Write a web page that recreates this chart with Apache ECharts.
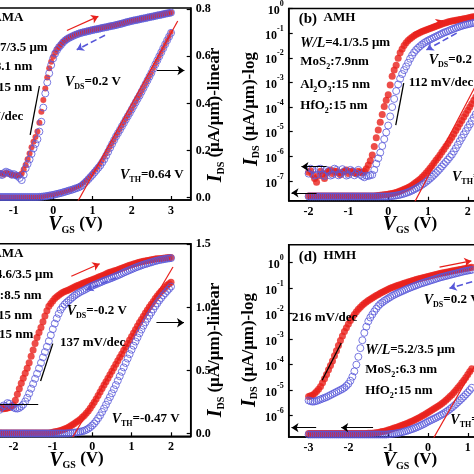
<!DOCTYPE html>
<html><head><meta charset="utf-8">
<script src="https://cdn.jsdelivr.net/npm/echarts@6/dist/echarts.min.js"></script>
<style>html,body{margin:0;padding:0;background:#fff}#c{width:474px;height:474px}</style>
</head><body><div id="c"></div>
<script>
// ---------- data (0.05 V steps) ----------
// Panel (a) AMA, VDS = 0.2 V
const vA = [-1.4,-1.35,-1.3,-1.25,-1.2,-1.15,-1.1,-1.05,-1.0,-0.95,-0.9,-0.85,-0.8,-0.75,-0.7,-0.65,-0.6,-0.55,-0.5,-0.45,
  -0.4,-0.35,-0.3,-0.25,-0.2,-0.15,-0.1,-0.05,0,0.05,0.1,0.15,0.2,0.25,0.3,0.35,0.4,0.45,0.5,0.55,
  0.6,0.65,0.7,0.75,0.8,0.85,0.9,0.95,1.0,1.05,1.1,1.15,1.2,1.25,1.3,1.35,1.4,1.45,1.5,1.55,
  1.6,1.65,1.7,1.75,1.8,1.85,1.9,1.95,2.0,2.05,2.1,2.15,2.2,2.25,2.3,2.35,2.4,2.45,2.5,2.55,
  2.6,2.65,2.7,2.75,2.8,2.85,2.9,2.95,3.0];
const aLogExpFwd = [-6.92,-6.88,-6.9,-6.95,-6.86,-6.9,-6.93,-6.97,-6.95,-6.99,-6.98,-6.97,-6.9,-6.73,-6.54,-6.3,-6.06,-5.8,-5.57,-5.37,
  -5.15,-4.78,-4.32,-3.83,-3.35,-2.9,-2.51,-2.24,-2.03,-1.86,-1.72,-1.61,-1.51,-1.42,-1.35,-1.29,-1.24,-1.2,-1.16,-1.12,
  -1.09,-1.06,-1.03,-1.01,-0.99,-0.97,-0.95,-0.93,-0.91,-0.89,-0.875,-0.86,-0.84,-0.82,-0.805,-0.79,-0.77,-0.75,-0.735,-0.72,
  -0.7,-0.68,-0.66,-0.64,-0.62,-0.595,-0.575,-0.555,-0.535,-0.515,-0.5,-0.485,-0.465,-0.445,-0.43,-0.415,-0.395,-0.375,-0.36,-0.345,
  -0.325,-0.305,-0.29,-0.275,-0.255,-0.235,-0.22,-0.205,-0.185];
const aLogExpBwd = [-6.9,-6.93,-6.96,-6.88,-6.82,-6.86,-6.89,-6.95,-6.92,-6.97,-7.0,-7.08,-7.17,-6.95,-6.68,-6.5,-6.31,-6.08,-5.85,-5.66,
  -5.47,-5.15,-4.74,-4.15,-3.56,-3.1,-2.72,-2.38,-2.1,-1.9,-1.75,-1.63,-1.54,-1.44,-1.36,-1.3,-1.25,-1.21,-1.17,-1.13,
  -1.1,-1.07,-1.04,-1.02,-1.0,-0.98,-0.96,-0.94,-0.92,-0.9,-0.885,-0.87,-0.85,-0.83,-0.815,-0.8,-0.78,-0.76,-0.745,-0.73,
  -0.71,-0.69,-0.67,-0.65,-0.625,-0.6,-0.58,-0.56,-0.54,-0.52,-0.505,-0.49,-0.47,-0.45,-0.435,-0.42,-0.4,-0.38,-0.365,-0.35,
  -0.33,-0.31,-0.295,-0.28,-0.26,-0.24,-0.225,-0.21,-0.19];
const aLinFwd = [0.003,0.003,0.003,0.003,0.003,0.003,0.003,0.003,0.003,0.003,0.003,0.003,0.003,0.003,0.003,0.003,0.003,0.003,0.003,0.003,
  0.003,0.0035,0.004,0.005,0.006,0.008,0.01,0.0115,0.013,0.015,0.017,0.019,0.021,0.0235,0.026,0.0285,0.031,0.034,0.037,0.04,
  0.044,0.048,0.053,0.06,0.067,0.075,0.084,0.093,0.103,0.113,0.123,0.134,0.145,0.158,0.172,0.186,0.2,0.215,0.23,0.245,
  0.261,0.275,0.29,0.304,0.318,0.333,0.347,0.361,0.376,0.391,0.406,0.421,0.435,0.451,0.467,0.483,0.499,0.515,0.531,0.549,
  0.567,0.584,0.601,0.618,0.635,0.652,0.669,0.685,0.703];
const aLinBwd = [0.003,0.003,0.003,0.003,0.003,0.003,0.003,0.003,0.003,0.003,0.003,0.003,0.003,0.003,0.003,0.003,0.003,0.003,0.003,0.003,
  0.003,0.0035,0.004,0.005,0.006,0.0075,0.009,0.0105,0.012,0.014,0.016,0.018,0.02,0.0225,0.025,0.0275,0.03,0.0325,0.035,0.038,
  0.041,0.044,0.048,0.054,0.062,0.07,0.079,0.088,0.097,0.107,0.117,0.127,0.137,0.15,0.163,0.179,0.195,0.212,0.228,0.244,
  0.26,0.274,0.288,0.303,0.317,0.332,0.346,0.36,0.375,0.39,0.405,0.42,0.434,0.45,0.466,0.482,0.498,0.514,0.53,0.548,
  0.566,0.583,0.6,0.617,0.634,0.651,0.668,0.684,0.70];
const aFitV = [0.6, 3.17];
const aFitI = [-0.024, 0.75];

// Panel (b) AMH, VDS = 0.2 V
const vB = [-2.0,-1.95,-1.9,-1.85,-1.8,-1.75,-1.7,-1.65,-1.6,-1.55,-1.5,-1.45,-1.4,-1.35,-1.3,-1.25,-1.2,-1.15,-1.1,-1.05,
  -1.0,-0.95,-0.9,-0.85,-0.8,-0.75,-0.7,-0.65,-0.6,-0.55,-0.5,-0.45,-0.4,-0.35,-0.3,-0.25,-0.2,-0.15,-0.1,-0.05,
  0,0.05,0.1,0.15,0.2,0.25,0.3,0.35,0.4,0.45,0.5,0.55,0.6,0.65,0.7,0.75,0.8,0.85,0.9,0.95,
  1.0,1.05,1.1,1.15,1.2,1.25,1.3,1.35,1.4,1.45,1.5,1.55,1.6,1.65,1.7,1.75,1.8,1.85,1.9,1.95,
  2.0,2.05,2.1,2.15,2.2];
const bLogExpFwd = [-6.65,-6.58,-6.75,-6.9,-7.05,-6.8,-6.6,-6.72,-6.9,-6.68,-6.6,-6.55,-6.7,-6.62,-6.6,-6.68,-6.75,-6.65,-6.6,-6.55,
  -6.7,-6.62,-6.6,-6.68,-6.7,-6.6,-6.65,-6.68,-6.6,-6.5,-6.35,-6.18,-5.95,-5.6,-5.25,-4.93,-4.62,-4.3,-3.98,-3.72,
  -3.5,-3.1,-2.75,-2.5,-2.3,-2.02,-1.8,-1.64,-1.5,-1.39,-1.3,-1.23,-1.17,-1.11,-1.06,-1.01,-0.97,-0.93,-0.9,-0.87,
  -0.84,-0.81,-0.78,-0.75,-0.72,-0.69,-0.66,-0.63,-0.6,-0.575,-0.55,-0.53,-0.51,-0.495,-0.48,-0.465,-0.45,-0.435,-0.42,-0.405,
  -0.39,-0.37,-0.35,-0.335,-0.32];
const bLogExpBwd = [-6.7,-6.5,-6.55,-6.78,-6.75,-6.52,-6.5,-6.76,-6.8,-6.55,-6.6,-6.78,-6.75,-6.5,-6.55,-6.77,-6.7,-6.52,-6.6,-6.78,
  -6.75,-6.55,-6.6,-6.77,-6.7,-6.55,-6.75,-6.8,-6.85,-6.78,-6.8,-6.76,-6.75,-6.55,-6.3,-6.08,-5.85,-5.58,-5.3,-5.03,
  -4.75,-4.38,-4.0,-3.67,-3.35,-3.08,-2.85,-2.66,-2.5,-2.35,-2.2,-2.04,-1.9,-1.78,-1.68,-1.6,-1.53,-1.46,-1.4,-1.35,
  -1.3,-1.26,-1.22,-1.18,-1.14,-1.1,-1.06,-1.02,-0.98,-0.95,-0.92,-0.885,-0.85,-0.82,-0.79,-0.76,-0.73,-0.705,-0.68,-0.66,
  -0.64,-0.62,-0.6,-0.585,-0.57];
const bLinFwd = [0.024,0.024,0.024,0.024,0.024,0.024,0.024,0.024,0.024,0.024,0.024,0.024,0.024,0.024,0.024,0.024,0.024,0.024,0.024,0.024,
  0.024,0.024,0.024,0.024,0.024,0.024,0.024,0.024,0.024,0.024,0.024,0.024,0.024,0.025,0.026,0.027,0.028,0.0295,0.031,0.0325,
  0.034,0.036,0.038,0.0405,0.043,0.0465,0.05,0.0545,0.059,0.064,0.069,0.074,0.08,0.088,0.096,0.104,0.112,0.122,0.132,0.144,
  0.156,0.169,0.182,0.196,0.21,0.224,0.238,0.253,0.268,0.283,0.298,0.314,0.33,0.347,0.365,0.382,0.4,0.417,0.435,0.452,
  0.47,0.487,0.505,0.522,0.54];
const bLinBwd = [0.022,0.022,0.022,0.022,0.022,0.022,0.022,0.022,0.022,0.022,0.022,0.022,0.022,0.022,0.022,0.022,0.022,0.022,0.022,0.022,
  0.022,0.022,0.022,0.022,0.022,0.022,0.022,0.022,0.022,0.022,0.022,0.022,0.022,0.022,0.022,0.022,0.022,0.022,0.022,0.022,
  0.022,0.023,0.024,0.0255,0.027,0.029,0.031,0.034,0.037,0.0405,0.044,0.0485,0.053,0.0585,0.064,0.07,0.076,0.083,0.09,0.098,
  0.106,0.115,0.124,0.134,0.144,0.155,0.166,0.178,0.19,0.202,0.214,0.227,0.24,0.256,0.273,0.291,0.31,0.327,0.345,0.362,
  0.38,0.397,0.415,0.432,0.45];
const bFitV = [0.62, 2.2];
const bFitI = [-0.025, 0.6];

// Panel (c) AMA, VDS = -0.2 V
const vC = [-2.4,-2.35,-2.3,-2.25,-2.2,-2.15,-2.1,-2.05,-2.0,-1.95,-1.9,-1.85,-1.8,-1.75,-1.7,-1.65,-1.6,-1.55,-1.5,-1.45,
  -1.4,-1.35,-1.3,-1.25,-1.2,-1.15,-1.1,-1.05,-1.0,-0.95,-0.9,-0.85,-0.8,-0.75,-0.7,-0.65,-0.6,-0.55,-0.5,-0.45,
  -0.4,-0.35,-0.3,-0.25,-0.2,-0.15,-0.1,-0.05,0,0.05,0.1,0.15,0.2,0.25,0.3,0.35,0.4,0.45,0.5,0.55,
  0.6,0.65,0.7,0.75,0.8,0.85,0.9,0.95,1.0,1.05,1.1,1.15,1.2,1.25,1.3,1.35,1.4,1.45,1.5,1.55,
  1.6,1.65,1.7,1.75,1.8,1.85,1.9,1.95,2.0];
const cLogExpFwd = [-6.82,-6.8,-6.82,-6.86,-6.85,-6.82,-6.8,-6.76,-6.7,-6.5,-6.25,-6.02,-5.8,-5.59,-5.38,-5.17,-4.95,-4.68,-4.42,-4.15,
  -3.9,-3.69,-3.48,-3.24,-3.0,-2.78,-2.6,-2.48,-2.38,-2.28,-2.2,-2.14,-2.08,-2.03,-1.99,-1.955,-1.92,-1.88,-1.84,-1.8,
  -1.76,-1.725,-1.69,-1.655,-1.62,-1.59,-1.56,-1.53,-1.5,-1.465,-1.43,-1.395,-1.36,-1.33,-1.3,-1.26,-1.22,-1.19,-1.16,-1.135,
  -1.11,-1.08,-1.05,-1.02,-0.99,-0.96,-0.93,-0.9,-0.87,-0.845,-0.82,-0.795,-0.77,-0.75,-0.73,-0.715,-0.7,-0.685,-0.67,-0.655,
  -0.64,-0.63,-0.62,-0.61,-0.6,-0.59,-0.58,-0.575,-0.57];
const cLogExpBwd = [-6.85,-6.9,-6.8,-6.72,-6.75,-6.62,-6.65,-6.75,-6.8,-6.84,-6.85,-6.82,-6.76,-6.68,-6.55,-6.4,-6.22,-6.02,-5.82,-5.61,
  -5.4,-5.18,-4.95,-4.72,-4.5,-4.28,-4.05,-3.8,-3.55,-3.32,-3.1,-2.91,-2.74,-2.62,-2.52,-2.44,-2.37,-2.3,-2.23,-2.16,
  -2.1,-2.05,-2.0,-1.96,-1.92,-1.875,-1.83,-1.79,-1.75,-1.715,-1.68,-1.645,-1.61,-1.575,-1.54,-1.51,-1.48,-1.45,-1.42,-1.385,
  -1.35,-1.315,-1.28,-1.24,-1.2,-1.165,-1.13,-1.095,-1.06,-1.025,-0.99,-0.96,-0.93,-0.9,-0.87,-0.845,-0.82,-0.795,-0.77,-0.745,
  -0.72,-0.7,-0.68,-0.665,-0.65,-0.635,-0.62,-0.61,-0.6];
const cLinFwd = [0.005,0.005,0.005,0.005,0.005,0.005,0.005,0.005,0.005,0.005,0.005,0.005,0.005,0.005,0.005,0.005,0.005,0.005,0.005,0.005,
  0.005,0.005,0.005,0.005,0.005,0.005,0.005,0.008,0.012,0.015,0.018,0.022,0.026,0.031,0.037,0.044,0.052,0.061,0.07,0.081,
  0.092,0.103,0.115,0.13,0.145,0.162,0.18,0.202,0.225,0.25,0.275,0.302,0.33,0.357,0.385,0.412,0.44,0.467,0.495,0.522,
  0.55,0.577,0.605,0.632,0.66,0.687,0.715,0.742,0.77,0.797,0.825,0.852,0.88,0.905,0.93,0.955,0.98,1.003,1.025,1.048,
  1.07,1.09,1.11,1.128,1.145,1.16,1.175,1.188,1.2];
const cLinBwd = [0.002,0.002,0.002,0.002,0.002,0.002,0.002,0.002,0.002,0.002,0.002,0.002,0.002,0.002,0.002,0.002,0.002,0.002,0.002,0.002,
  0.002,0.002,0.002,0.002,0.002,0.002,0.002,0.002,0.002,0.002,0.002,0.002,0.002,0.002,0.002,0.003,0.004,0.0055,0.007,0.009,
  0.011,0.013,0.016,0.02,0.024,0.031,0.04,0.051,0.065,0.081,0.1,0.122,0.145,0.172,0.2,0.23,0.26,0.29,0.32,0.352,
  0.385,0.42,0.455,0.49,0.525,0.56,0.595,0.63,0.665,0.697,0.73,0.762,0.795,0.825,0.855,0.882,0.91,0.935,0.96,0.985,
  1.01,1.032,1.055,1.075,1.095,1.112,1.13,1.147,1.165];
const cFitV = [-0.5, 2.05];
const cFitI = [-0.03, 1.32];

// Panel (d) HMH, VDS = 0.2 V
const vD = [-3.0,-2.95,-2.9,-2.85,-2.8,-2.75,-2.7,-2.65,-2.6,-2.55,-2.5,-2.45,-2.4,-2.35,-2.3,-2.25,-2.2,-2.15,-2.1,-2.05,
  -2.0,-1.95,-1.9,-1.85,-1.8,-1.75,-1.7,-1.65,-1.6,-1.55,-1.5,-1.45,-1.4,-1.35,-1.3,-1.25,-1.2,-1.15,-1.1,-1.05,
  -1.0,-0.95,-0.9,-0.85,-0.8,-0.75,-0.7,-0.65,-0.6,-0.55,-0.5,-0.45,-0.4,-0.35,-0.3,-0.25,-0.2,-0.15,-0.1,-0.05,
  0,0.05,0.1,0.15,0.2,0.25,0.3,0.35,0.4,0.45,0.5,0.55,0.6,0.65,0.7,0.75,0.8,0.85,0.9,0.95,
  1.0,1.05,1.1];
const dLogExpFwd = [-5.25,-5.22,-5.2,-5.13,-5.05,-4.96,-4.85,-4.71,-4.55,-4.38,-4.2,-4.03,-3.85,-3.65,-3.45,-3.25,-3.05,-2.87,-2.7,-2.55,
  -2.4,-2.27,-2.15,-2.03,-1.92,-1.83,-1.75,-1.67,-1.6,-1.54,-1.48,-1.43,-1.38,-1.335,-1.29,-1.245,-1.2,-1.16,-1.12,-1.08,
  -1.04,-1.005,-0.97,-0.94,-0.91,-0.885,-0.86,-0.835,-0.81,-0.785,-0.76,-0.735,-0.71,-0.685,-0.66,-0.64,-0.62,-0.6,-0.58,-0.56,
  -0.54,-0.52,-0.5,-0.48,-0.46,-0.44,-0.42,-0.405,-0.39,-0.375,-0.36,-0.345,-0.33,-0.315,-0.3,-0.285,-0.27,-0.255,-0.24,-0.225,
  -0.21,-0.195,-0.18];
const dLogExpBwd = [-5.4,-5.43,-5.45,-5.44,-5.42,-5.39,-5.36,-5.33,-5.3,-5.27,-5.23,-5.19,-5.15,-5.11,-5.07,-5.03,-4.99,-4.95,-4.9,-4.83,
  -4.75,-4.63,-4.47,-4.26,-4.0,-3.69,-3.35,-3.04,-2.75,-2.51,-2.3,-2.15,-2.03,-1.91,-1.8,-1.7,-1.62,-1.56,-1.5,-1.45,
  -1.4,-1.35,-1.3,-1.26,-1.22,-1.185,-1.15,-1.115,-1.08,-1.045,-1.01,-0.98,-0.95,-0.92,-0.89,-0.86,-0.83,-0.805,-0.78,-0.755,
  -0.73,-0.705,-0.68,-0.655,-0.63,-0.605,-0.58,-0.56,-0.54,-0.52,-0.5,-0.48,-0.46,-0.44,-0.42,-0.4,-0.38,-0.36,-0.34,-0.325,
  -0.31,-0.295,-0.28];
const dLinFwd = [0.018,0.018,0.018,0.018,0.018,0.018,0.018,0.018,0.018,0.018,0.018,0.018,0.018,0.018,0.018,0.018,0.018,0.018,0.018,0.018,
  0.018,0.018,0.018,0.018,0.018,0.018,0.018,0.018,0.018,0.0185,0.019,0.0195,0.02,0.021,0.022,0.024,0.026,0.028,0.03,0.033,
  0.036,0.0395,0.043,0.0465,0.05,0.0535,0.057,0.061,0.065,0.069,0.073,0.0775,0.082,0.087,0.092,0.0975,0.103,0.109,0.115,0.121,
  0.127,0.1335,0.14,0.1465,0.153,0.16,0.167,0.1745,0.182,0.191,0.2,0.21,0.22,0.2315,0.243,0.2555,0.268,0.2815,0.295,0.31,
  0.325,0.34,0.355];
const dLinBwd = [0.013,0.013,0.013,0.013,0.013,0.013,0.013,0.013,0.013,0.013,0.013,0.013,0.013,0.013,0.013,0.013,0.013,0.013,0.013,0.013,
  0.013,0.013,0.013,0.013,0.013,0.013,0.013,0.013,0.013,0.013,0.013,0.013,0.013,0.013,0.013,0.013,0.013,0.013,0.013,0.013,
  0.014,0.015,0.016,0.0175,0.019,0.021,0.023,0.0255,0.028,0.031,0.034,0.0375,0.041,0.045,0.049,0.0535,0.058,0.063,0.068,0.074,
  0.08,0.085,0.09,0.095,0.1,0.1055,0.111,0.117,0.123,0.13,0.137,0.145,0.153,0.162,0.171,0.1805,0.19,0.2,0.21,0.221,
  0.232,0.244,0.256];
const dFitV = [0.1, 1.2];
const dFitI = [-0.02, 0.38];

// tick values
const xTicksAB = [-2,-1,0,1,2,3];
const xTicksCD = [-3,-2,-1,0,1,2];
const linTicksA = [0,0.2,0.4,0.6,0.8];
const linTicksC = [0,0.5,1.0,1.5];
const logTicksB = [1e-7,1e-6,1e-5,1e-4,1e-3,1e-2,1e-1,1];
const logTicksD = [1e-6,1e-5,1e-4,1e-3,1e-2,1e-1,1];

// ---------- chart ----------
const FONT = 'Liberation Serif';
const RED = '#e8201c';
const BLUE = '#5757d9';
const BLACK = '#000';

const pts = (xs, ys) => xs.map((x, i) => [x, ys[i]]);
const logPts = (xs, es) => xs.map((x, i) => [x, Math.pow(10, es[i])]);

const lblBase = {color: BLACK, fontFamily: FONT, fontWeight: 'bold', fontSize: 12};

function xAx(gi, min, max, ticks) {
  return {type: 'value', gridIndex: gi, min, max,
    axisLine: {show: true, onZero: false, lineStyle: {color: BLACK, width: 1.5}},
    axisTick: {show: true, inside: true, length: 4, customValues: ticks, lineStyle: {color: BLACK, width: 1.2}},
    axisLabel: Object.assign({customValues: ticks, margin: 5, formatter: v => String(v)}, lblBase),
    splitLine: {show: false}};
}
function logAx(gi, min, max, ticks, show) {
  return {type: 'log', logBase: 10, gridIndex: gi, position: 'left', min, max, show,
    axisLine: {show: true, onZero: false, lineStyle: {color: BLACK, width: 1.5}},
    axisTick: {show: true, inside: true, length: 4, customValues: ticks, lineStyle: {color: BLACK, width: 1.2}},
    minorTick: {show: false},
    axisLabel: {customValues: ticks, margin: 5,
      formatter: v => '{b|10}{s|' + Math.round(Math.log10(v)) + '}',
      rich: {
        b: {fontSize: 12, fontWeight: 'bold', fontFamily: FONT, color: BLACK, padding: [5, 0, 0, 0], verticalAlign: 'bottom'},
        s: {fontSize: 8, fontWeight: 'bold', fontFamily: FONT, color: BLACK, verticalAlign: 'top'}
      }},
    splitLine: {show: false}};
}
function linAx(gi, min, max, ticks, show) {
  return {type: 'value', gridIndex: gi, position: 'right', min, max, show,
    axisLine: {show: true, onZero: false, lineStyle: {color: BLACK, width: 1.5}},
    axisTick: {show: true, inside: true, length: 4, customValues: ticks || [], lineStyle: {color: BLACK, width: 1.2}},
    axisLabel: Object.assign({customValues: ticks || [], margin: 5, formatter: v => v.toFixed(1)}, lblBase),
    splitLine: {show: false}};
}
function fwd(xi, yi, data, size) {
  return {type: 'scatter', xAxisIndex: xi, yAxisIndex: yi, data, symbol: 'circle', symbolSize: size || 7,
    itemStyle: {color: RED}, z: 2, silent: true, animation: false};
}
function bwd(xi, yi, data) {
  return {type: 'scatter', xAxisIndex: xi, yAxisIndex: yi, data, symbol: 'circle', symbolSize: 7,
    itemStyle: {color: 'rgba(255,255,255,0)', borderColor: BLUE, borderWidth: 1}, z: 3, silent: true, animation: false};
}
function ml(lines) {
  return {silent: true, animation: false, symbol: ['none', 'arrow'], symbolSize: 7, label: {show: false},
    emphasis: {disabled: true}, data: lines};
}
function arrow(p1, p2, color, dashed, width) {
  return [{coord: p1, symbol: 'none', lineStyle: {color, width: width || 1.3, type: dashed ? 'dashed' : 'solid'}},
          {coord: p2, symbol: 'arrow', symbolSize: 7}];
}
function seg(p1, p2) {
  return [{coord: p1, symbol: 'none', lineStyle: {color: BLACK, width: 1.3, type: 'solid'}},
          {coord: p2, symbol: 'none'}];
}
function fit(xi, yi, xs, ys, marks) {
  const s = {type: 'line', xAxisIndex: xi, yAxisIndex: yi, data: pts(xs, ys), symbol: 'none', showSymbol: false,
    lineStyle: {color: RED, width: 1.2}, clip: true, z: 5, silent: true, animation: false};
  if (marks) s.markLine = ml(marks);
  return s;
}
const e10 = e => Math.pow(10, e);

// ---------- series ----------
const series = [];
// (a): x0, log y0, lin y1
const aR = fwd(0, 0, logPts(vA, aLogExpFwd), 6);
aR.markLine = ml([seg([-0.585, e10(-5.29)], [-0.35, e10(-3.25)])]);
series.push(aR, bwd(0, 0, logPts(vA, aLogExpBwd)), fwd(0, 1, pts(vA, aLinFwd), 5), bwd(0, 1, pts(vA, aLinBwd)));
series.push(fit(0, 1, aFitV, aFitI, [
  arrow([0.35, 0.71], [1.15, 0.77], RED, false),
  arrow([1.32, 0.69], [0.6, 0.628], BLUE, true, 1.6),
  arrow([2.64, 0.54], [3.34, 0.54], BLACK, false, 1)
]));
// (b): x1, log y2, lin y3
const bR = fwd(1, 2, logPts(vB, bLogExpFwd));
bR.markLine = ml([
  arrow([-1.55, e10(-6.42)], [-2.18, e10(-6.42)], BLACK, false, 1),
  arrow([-1.8, e10(-7.48)], [-2.43, e10(-7.48)], BLACK, false, 1),
  arrow([0.63, e10(-1.0)], [1.38, e10(-0.49)], RED, false),
  arrow([1.72, e10(-1.0)], [0.96, e10(-1.68)], BLUE, true, 1.6),
  seg([0.19, e10(-4.73)], [0.39, e10(-3.03)])
]);
series.push(bR, bwd(1, 2, logPts(vB, bLogExpBwd)), fwd(1, 3, pts(vB, bLinFwd)), bwd(1, 3, pts(vB, bLinBwd)));
series.push(fit(1, 3, bFitV, bFitI));
// (c): x2, log y4, lin y5
const cR = fwd(2, 4, logPts(vC, cLogExpFwd));
cR.markLine = ml([
  seg([-1.31, e10(-5.70)], [-1.0, e10(-4.15)]),
  arrow([-1.37, e10(-6.68)], [-3.3, e10(-6.68)], BLACK, false, 1)
]);
series.push(bwd(2, 4, logPts(vC, cLogExpBwd)), cR, bwd(2, 5, pts(vC, cLinBwd)), fwd(2, 5, pts(vC, cLinFwd)));
series.push(fit(2, 5, cFitV, cFitI, [
  arrow([-0.53, 1.247], [0.19, 1.346], RED, false),
  arrow([0.61, 1.236], [-0.15, 1.141], BLUE, true, 1.6),
  arrow([1.63, 0.879], [2.33, 0.879], BLACK, false, 1)
]));
// (d): x3, log y6, lin y7
const dR = fwd(3, 6, logPts(vD, dLogExpFwd));
dR.markLine = ml([
  arrow([-2.81, e10(-6.47)], [-3.43, e10(-6.47)], BLACK, false, 1),
  arrow([-1.38, e10(-6.47)], [-2.18, e10(-6.47)], BLACK, false, 1),
  arrow([0.29, e10(-0.17)], [1.09, e10(0.07)], RED, false),
  arrow([1.11, e10(-0.75)], [0.54, e10(-1.0)], BLUE, true, 1.6),
  seg([-2.66, e10(-4.61)], [-2.18, e10(-3.15)])
]);
series.push(bwd(3, 6, logPts(vD, dLogExpBwd)), dR, bwd(3, 7, pts(vD, dLinBwd)), fwd(3, 7, pts(vD, dLinFwd)));
series.push(fit(3, 7, dFitV, dFitI));

// ---------- texts ----------
const RICH = {
  p: {fontSize: 15, fontWeight: 'bold', fontFamily: FONT, fill: BLACK, verticalAlign: 'top', lineHeight: 17},
  n: {fontSize: 13, fontWeight: 'bold', fontFamily: FONT, fill: BLACK, verticalAlign: 'top', lineHeight: 15},
  i: {fontSize: 14, fontWeight: 'bold', fontStyle: 'italic', fontFamily: FONT, fill: BLACK, verticalAlign: 'top', lineHeight: 15},
  sub: {fontSize: 8, fontWeight: 'bold', fontFamily: FONT, fill: BLACK, verticalAlign: 'top', lineHeight: 10, padding: [7, 0, 0, 0]},
  N: {fontSize: 17, fontWeight: 'bold', fontFamily: FONT, fill: BLACK, verticalAlign: 'top', lineHeight: 21},
  I: {fontSize: 20, fontWeight: 'bold', fontStyle: 'italic', fontFamily: FONT, fill: BLACK, verticalAlign: 'top', lineHeight: 21},
  S: {fontSize: 10, fontWeight: 'bold', fontFamily: FONT, fill: BLACK, verticalAlign: 'top', lineHeight: 12, padding: [10, 0, 0, 0]}
};
function T(x, y, text, align, rot) {
  const g = {type: 'text', x, y, silent: true, z: 100,
    style: {text, align: align || 'left', verticalAlign: 'middle', fill: BLACK, fontFamily: FONT, fontWeight: 'bold', fontSize: 13, rich: RICH}};
  if (rot) g.rotation = rot;
  return g;
}
const ROT = Math.PI / 2;
const graphics = [
  // (a)
  T(23.3, 20, '{p|(a)}{n|  AMA}', 'right'),
  T(47.7, 49, '{i|W/L}{n|=3.7/3.5 μm}', 'right'),
  T(32.3, 68, '{n|MoS}{sub|2}{n|:8.1 nm}', 'right'),
  T(32.3, 89, '{n|Al}{sub|2}{n|O}{sub|3}{n|:15 nm}', 'right'),
  T(23.3, 118, '{n|89 mV/dec}', 'right'),
  T(65, 83, '{i|V}{sub|DS}{n|=0.2 V}'),
  T(120, 176, '{i|V}{sub|TH}{n|=0.64 V}'),
  T(216.7, 115, '{I|I}{S|DS}{N| (μA/μm)-linear}', 'center', ROT),
  T(75.5, 225.5, '{I|V}{S|GS}{N| (V)}', 'center'),
  // (b)
  T(298.7, 20, '{p|(b)}{n|  AMH}'),
  T(300.3, 44, '{i|W/L}{n|=4.1/3.5 μm}'),
  T(300.3, 63, '{n|MoS}{sub|2}{n|:7.9nm}'),
  T(300.3, 86, '{n|Al}{sub|2}{n|O}{sub|3}{n|:15 nm}'),
  T(300.3, 107, '{n|HfO}{sub|2}{n|:15 nm}'),
  T(408.7, 84, '{n|112 mV/dec}'),
  T(428.7, 61, '{i|V}{sub|DS}{n|=0.2 V}'),
  T(452, 178, '{i|V}{sub|TH}{n|=0.62 V}'),
  T(252, 109, '{I|I}{S|DS}{N| (μA/μm)-log}', 'center', ROT),
  T(410, 225.5, '{I|V}{S|GS}{N| (V)}', 'center'),
  // (c)
  T(23.3, 256, '{p|(c)}{n|  AMA}', 'right'),
  T(53.3, 276, '{i|W/L}{n|=4.6/3.5 μm}', 'right'),
  T(41.7, 297, '{n|MoS}{sub|2}{n|:8.5 nm}', 'right'),
  T(32.3, 317, '{n|Al}{sub|2}{n|O}{sub|3}{n|:15 nm}', 'right'),
  T(33.3, 336, '{n|HfO}{sub|2}{n|:15 nm}', 'right'),
  T(60, 344, '{n|137 mV/dec}'),
  T(66.7, 312, '{i|V}{sub|DS}{n|=-0.2 V}'),
  T(111.7, 420, '{i|V}{sub|TH}{n|=-0.47 V}'),
  T(216.7, 350, '{I|I}{S|DS}{N| (μA/μm)-linear}', 'center', ROT),
  T(76.5, 461, '{I|V}{S|GS}{N| (V)}', 'center'),
  // (d)
  T(298.7, 258, '{p|(d)}{n|  HMH}'),
  T(292, 319, '{n|216 mV/dec}'),
  T(365.3, 351, '{i|W/L}{n|=5.2/3.5 μm}'),
  T(365.3, 371, '{n|MoS}{sub|2}{n|:6.3 nm}'),
  T(365.3, 392, '{n|HfO}{sub|2}{n|:15 nm}'),
  T(423.7, 301, '{i|V}{sub|DS}{n|=0.2 V}'),
  T(450.3, 421, '{i|V}{sub|TH}{n|=0.1 V}'),
  T(250.3, 350, '{I|I}{S|DS}{N| (μA/μm)-log}', 'center', ROT),
  T(410, 461.5, '{I|V}{S|GS}{N| (V)}', 'center')
];

const gridBase = {show: true, borderColor: BLACK, borderWidth: 1.5, containLabel: false, outerBoundsMode: 'none'};
const option = {
  backgroundColor: '#fff',
  animation: false,
  grid: [
    Object.assign({left: -45.1, top: 8, width: 235.8, height: 192}, gridBase),
    Object.assign({left: 288.7, top: 8.5, width: 238.8, height: 192.2}, gridBase),
    Object.assign({left: -45.7, top: 243.7, width: 236.4, height: 192.6}, gridBase),
    Object.assign({left: 288.7, top: 244.7, width: 238.8, height: 192.3}, gridBase)
  ],
  xAxis: [
    xAx(0, -2.5, 3.5, xTicksAB),
    xAx(1, -2.5, 3.5, xTicksAB),
    xAx(2, -3.5, 2.5, xTicksCD),
    xAx(3, -3.5, 2.5, xTicksCD)
  ],
  yAxis: [
    logAx(0, 1e-8, 1, [], false),
    linAx(0, -0.0098, 0.8055, linTicksA, true),
    logAx(1, Math.pow(10, -7.8), 1, logTicksB, true),
    linAx(1, 0, 1, null, false),
    logAx(2, 1e-8, 1, [], false),
    linAx(2, -0.0206, 1.5048, linTicksC, true),
    logAx(3, Math.pow(10, -6.835), Math.pow(10, 0.706), logTicksD, true),
    linAx(3, 0, 1, null, false)
  ],
  series,
  graphic: graphics
};
const chart = echarts.init(document.getElementById('c'), null, {renderer: 'canvas'});
chart.setOption(option);
</script>
</body></html>
